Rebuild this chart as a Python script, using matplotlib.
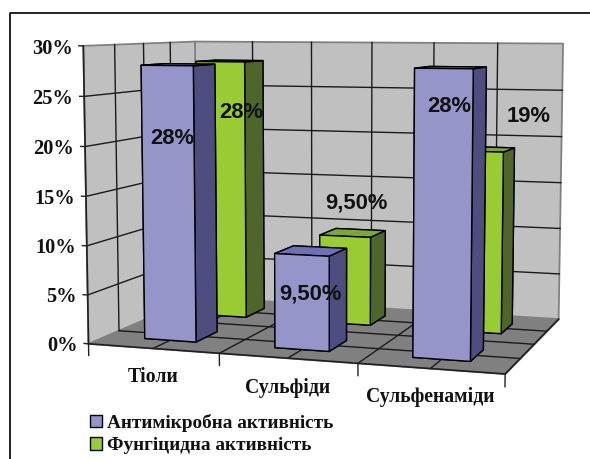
import matplotlib
matplotlib.use("Agg")
import matplotlib.pyplot as plt
from matplotlib.lines import Line2D
from matplotlib.patches import Patch
from mpl_toolkits.mplot3d import proj3d
from mpl_toolkits.mplot3d.art3d import Poly3DCollection

categories = ["Тіоли", "Сульфіди", "Сульфенаміди"]
series_names = ["Антимікробна активність", "Фунгіцидна активність"]
antimicrobial = [28, 9.5, 28]
fungicidal = [28, 9.5, 19]
antimicrobial_labels = ["28%", "9,50%", "28%"]
fungicidal_labels = ["28%", "9,50%", "19%"]
z_ticks = [0, 5, 10, 15, 20, 25, 30]

W, H = 590, 459
SERIF = "Liberation Serif"
SANS = "Liberation Sans"
GRID = "#1a1a1a"
BAR_W = 0.4
BAR_D = 0.4

# faces of bar3d: bottom, top, front, back, left, right
PURPLE = ["#4d4d80", "#6f6fb4", "#9595c9", "#9595c9", "#4d4d80", "#4d4d80"]
GREEN = ["#4f662a", "#7ca63a", "#99cc33", "#99cc33", "#4f662a", "#4f662a"]

fig = plt.figure(figsize=(W / 100, H / 100), dpi=100, facecolor="white")
# position comes from fitting the box corners to the picture
ax = fig.add_axes([183.99 / W, 120.96 / H, 289.74 / W, 289.74 / H], projection="3d")
ax.set_xlim(0, 3)
ax.set_ylim(0, 2)
ax.set_zlim(0, 30)
ax.view_init(6.303, -71.695)
ax.set_box_aspect((3, 1.95, 2.102), zoom=1.905)
ax.computed_zorder = False
ax.set_axis_off()
ax.patch.set_alpha(0)

# walls and floor
walls = [
    [(0, 0, 0), (0, 2, 0), (0, 2, 30), (0, 0, 30)],
    [(0, 2, 0), (3, 2, 0), (3, 2, 30), (0, 2, 30)],
]
ax.add_collection3d(Poly3DCollection(walls, facecolors="#c0c0c0", edgecolors="#808080",
                                     linewidths=1.3, zorder=1))
floor = [[(0, 0, 0), (3, 0, 0), (3, 2, 0), (0, 2, 0)]]
ax.add_collection3d(Poly3DCollection(floor, facecolors="#808080", edgecolors="#808080",
                                     linewidths=0.8, zorder=1))

# gridlines
for z in z_ticks[1:-1]:
    ax.plot([0, 0, 3], [0, 2, 2], [z, z, z], color=GRID, lw=1, zorder=2)
for y in [0.5, 1, 1.5]:
    ax.plot([0, 0], [y, y], [0, 30], color=GRID, lw=1, zorder=2)
    ax.plot([0, 3], [y, y], [0, 0], color=GRID, lw=1, zorder=2)
for x in [0.5, 1, 1.5, 2, 2.5]:
    ax.plot([x, x], [2, 2], [0, 30], color=GRID, lw=1, zorder=2)
    ax.plot([x, x], [0, 2], [0, 0], color=GRID, lw=1, zorder=2)

# axis lines and ticks
ax.plot([0, 0], [0, 0], [0, 30], color="#202020", lw=1.2, zorder=3)
ax.plot([0, 3, 3], [0, 0, 2], [0, 0, 0], color="#202020", lw=1.2, zorder=3)
M = ax.get_proj()
for z in z_ticks:
    ax.plot([-0.035, 0], [0, 0], [z, z], color="#202020", lw=1, zorder=3)
    # plain figure text at the projected tick place, a little under the tick
    tx, ty, _ = proj3d.proj_transform(-0.085, 0, z - 0.3, M)
    fig.text(tx, ty, "%d%%" % z, transform=ax.transData, ha="right", va="center", fontsize=14.7,
             fontweight="bold", family=SERIF, color="#111111", zorder=30)
for x in range(4):
    ax.plot([x, x], [0, 0], [0, -1.2], color="#202020", lw=1, zorder=3)

# bars, back row first so the front row covers it
for i in range(3):
    ax.bar3d(i + (1 - BAR_W) / 2, 1 + (1 - BAR_D) / 2, 0, BAR_W, BAR_D, fungicidal[i], color=GREEN,
             shade=False, edgecolor="black", linewidth=1, zorder=5 + i)
for i in range(3):
    ax.bar3d(i + (1 - BAR_W) / 2, (1 - BAR_D) / 2, 0, BAR_W, BAR_D, antimicrobial[i], color=PURPLE,
             shade=False, edgecolor="black", linewidth=1, zorder=10 + i)

# box sits in a small axes, marks must not be cut at its edge
for art in ax.get_children():
    art.set_clip_on(False)


def put_text(px, py, s, **kw):
    fig.text(px / W, 1 - py / H, s, ha="center", va="center", zorder=30, **kw)


# category names
cat_pos = [(153, 377), (288, 388), (430, 397)]
for (px, py), name in zip(cat_pos, categories):
    put_text(px, py, name, fontsize=14.2, fontweight="bold", family=SERIF, color="#111111")

# value labels, moved by hand in the original chart
anti_pos = [(172, 139), (310, 294), (449, 106)]
fung_pos = [(241, 113), (356, 203), (529, 117)]
for (px, py), s in zip(anti_pos, antimicrobial_labels):
    put_text(px, py, s, fontsize=15.8, fontweight="bold", family=SANS, color="#111111")
for (px, py), s in zip(fung_pos, fungicidal_labels):
    put_text(px, py, s, fontsize=15.8, fontweight="bold", family=SANS, color="#111111")

handles = [Patch(facecolor=PURPLE[2], edgecolor="black", linewidth=1),
           Patch(facecolor=GREEN[2], edgecolor="black", linewidth=1)]
fig.legend(handles, series_names, loc="upper left", bbox_to_anchor=(90 / W, 1 - 414 / H),
           bbox_transform=fig.transFigure, frameon=False, handlelength=0.62, handleheight=0.62,
           handletextpad=0.26, labelspacing=0.27, borderpad=0, borderaxespad=0,
           prop={"family": SERIF, "weight": "bold", "size": 13.9}, labelcolor="#111111")

# frame of the pasted picture: only left and top show
fig.add_artist(Line2D([9.5 / W, 9.5 / W, 1], [0, 1 - 12.5 / H, 1 - 12.5 / H], color="#111111", lw=1.3))

fig.savefig("out.png", dpi=100, facecolor="white")
